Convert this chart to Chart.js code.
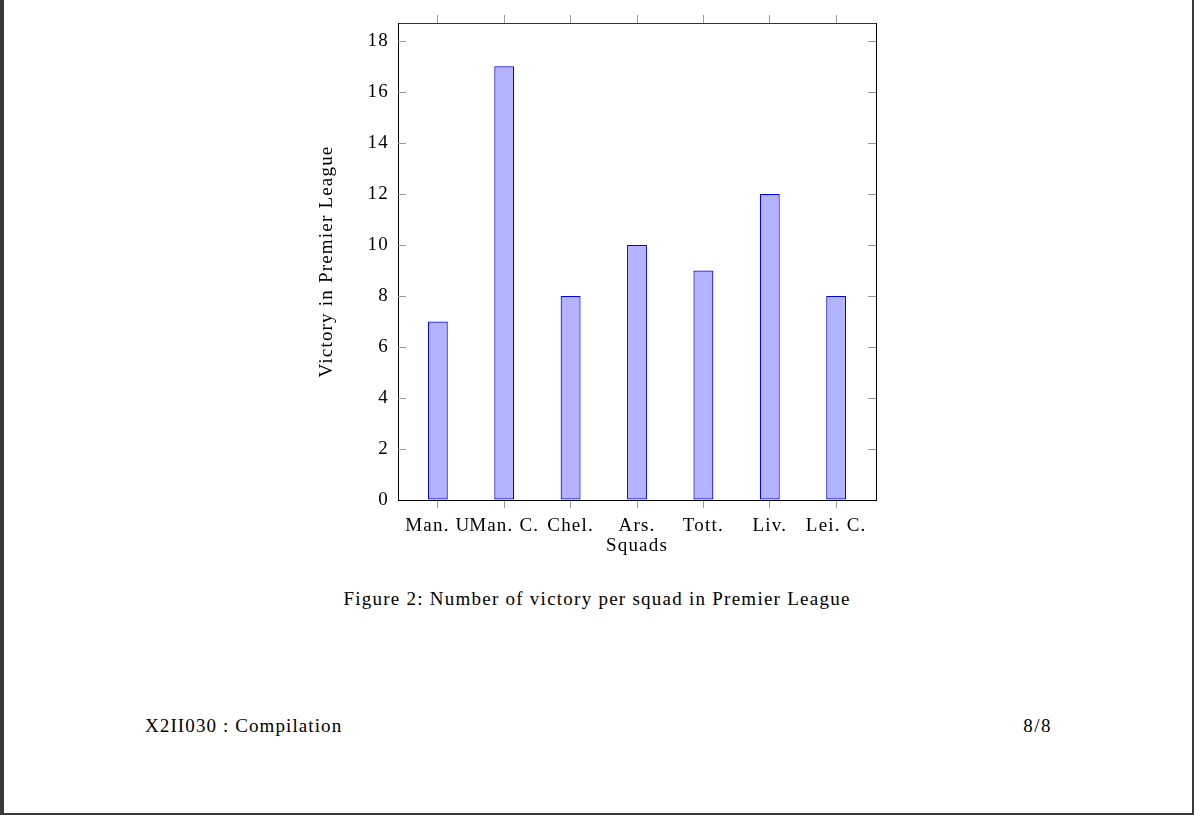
<!DOCTYPE html>
<html lang="en">
<head>
    <meta charset="UTF-8">
    <title>Victory per squad</title>
    <script src="https://cdn.jsdelivr.net/npm/chart.js"></script>
    <style>
        html, body {
            margin: 0;
            padding: 0;
            width: 1194px;
            height: 815px;
            overflow: hidden;
            background: #fff;
            font-family: 'Liberation Serif', serif;
        }

        #page {
            position: absolute;
            left: 0;
            top: 0;
            width: 1188px;
            height: 813px;
            border-left: 4px solid #3a3a3a;
            border-right: 2px solid #3a3a3a;
            border-bottom: 2px solid #3a3a3a;
        }

        #chart-box {
            position: absolute;
            left: 310px;
            top: 0;
            width: 580px;
            height: 570px;
        }

        .caption {
            position: absolute;
            left: 0;
            width: 1194px;
            top: 588px;
            text-align: center;
            font-size: 19px;
            letter-spacing: 1.25px;
            color: #000;
        }

        .footer {
            position: absolute;
            top: 715px;
            font-size: 19px;
            letter-spacing: 1.1px;
            color: #000;
        }
    </style>
</head>
<body>
    <div id="page"></div>

    <div id="chart-box">
        <canvas id="barGraph"></canvas>
    </div>

    <div class="caption">Figure 2: Number of victory per squad in Premier League</div>
    <div class="footer" style="left: 145px;">X2II030 : Compilation</div>
    <div class="footer" style="right: 142px; letter-spacing: 1.5px;">8/8</div>

    <script>
        // Data
        const categories = ['Man. U', 'Man. C.', 'Chel.', 'Ars.', 'Tott.', 'Liv.', 'Lei. C.'];
        const victories = [7, 17, 8, 10, 9, 12, 8];
        const yTicks = [0, 2, 4, 6, 8, 10, 12, 14, 16, 18];

        const serif = { family: "'Liberation Serif', serif", size: 19 };
        const tickGrey = '#9a9a9a';

        // Box edges (page coords) the plot frame should land on
        const boxLeft = 310, boxWidth = 580, boxHeight = 570;
        const plotLeft = 398, plotRight = 876, plotTop = 23, plotBottom = 500;

        function categoryTicks(scale) {
            scale.ticks = categories.map((c, i) => ({ value: i }));
        }

        // wider spacing so Liberation Serif takes the room of Computer Modern
        const spacing = {
            id: 'spacing',
            beforeUpdate(chart) { chart.ctx.letterSpacing = '1.2px'; },
            beforeDraw(chart) { chart.ctx.letterSpacing = '1.2px'; }
        };

        // pgfplots style inward ticks on the left and right of the frame
        const inwardTicks = {
            id: 'inwardTicks',
            afterDatasetsDraw(chart) {
                const ctx = chart.ctx;
                const area = chart.chartArea;
                const y = chart.scales.y;
                ctx.save();
                ctx.strokeStyle = tickGrey;
                ctx.lineWidth = 1;
                y.ticks.forEach(t => {
                    if (t.value === 0) return;
                    const py = Math.round(y.getPixelForValue(t.value)) + 0.5;
                    ctx.beginPath();
                    ctx.moveTo(area.left, py);
                    ctx.lineTo(area.left + 8, py);
                    ctx.moveTo(area.right - 8, py);
                    ctx.lineTo(area.right, py);
                    ctx.stroke();
                });
                ctx.restore();
            }
        };

        function createBarGraph() {
            const ctx = document.getElementById('barGraph').getContext('2d');
            new Chart(ctx, {
                type: 'bar',
                data: {
                    datasets: [{
                        label: 'Victory',
                        data: victories.map((v, i) => ({ x: i, y: v })),
                        backgroundColor: 'rgb(179, 179, 255)',
                        borderColor: 'rgb(0, 0, 255)',
                        borderWidth: 1.2,
                        borderSkipped: false,
                        barPercentage: 0.3,
                        categoryPercentage: 1
                    }]
                },
                options: {
                    responsive: true,
                    maintainAspectRatio: false,
                    animation: false,
                    layout: { padding: 0 },
                    plugins: {
                        legend: { display: false },
                        tooltip: { enabled: false }
                    },
                    scales: {
                        x: {
                            type: 'linear',
                            position: 'bottom',
                            offset: false,
                            min: -0.6,
                            max: 6.6,
                            afterBuildTicks: categoryTicks,
                            afterFit: s => { s.height = boxHeight - plotBottom; },
                            ticks: {
                                autoSkip: false,
                                maxRotation: 0,
                                color: '#000',
                                font: serif,
                                padding: 7,
                                callback: v => categories[v]
                            },
                            grid: { offset: false, drawOnChartArea: false, drawTicks: true, tickLength: 8, color: tickGrey },
                            border: { display: true, color: '#000', width: 1 },
                            title: {
                                display: true,
                                text: 'Squads',
                                color: '#000',
                                font: serif,
                                padding: { top: 0, bottom: 13 }
                            }
                        },
                        x2: {
                            type: 'linear',
                            position: 'top',
                            offset: false,
                            min: -0.6,
                            max: 6.6,
                            afterBuildTicks: categoryTicks,
                            afterFit: s => { s.height = plotTop; },
                            ticks: { display: false },
                            grid: { offset: false, drawOnChartArea: false, drawTicks: true, tickLength: 8, color: tickGrey },
                            border: { display: true, color: '#333', width: 1 }
                        },
                        y: {
                            type: 'linear',
                            position: 'left',
                            min: 0,
                            max: 18.7,
                            afterBuildTicks: s => { s.ticks = yTicks.map(v => ({ value: v })); },
                            afterFit: s => { s.width = plotLeft - boxLeft; },
                            ticks: { color: '#000', font: serif, padding: 9 },
                            grid: { drawOnChartArea: false, drawTicks: false },
                            border: { display: true, color: '#000', width: 1 },
                            title: {
                                display: true,
                                text: 'Victory in Premier League',
                                color: '#000',
                                font: serif,
                                padding: { top: 6, bottom: 0 }
                            }
                        },
                        y2: {
                            type: 'linear',
                            position: 'right',
                            min: 0,
                            max: 18.7,
                            afterFit: s => { s.width = boxLeft + boxWidth - plotRight; },
                            ticks: { display: false },
                            grid: { display: false },
                            border: { display: true, color: '#000', width: 1 }
                        }
                    }
                },
                plugins: [spacing, inwardTicks]
            });
        }

        createBarGraph();
    </script>
</body>
</html>
